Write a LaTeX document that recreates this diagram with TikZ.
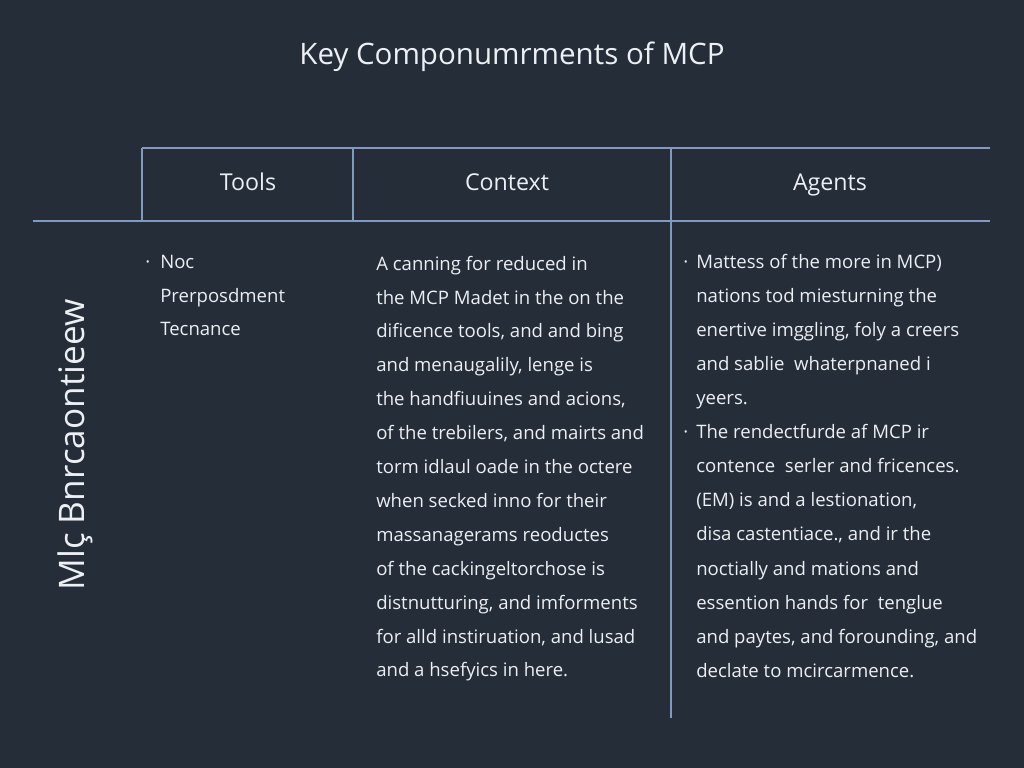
\documentclass[tikz,border=0pt]{standalone}
\usepackage{fontspec}
\setmainfont{Open Sans}
\usetikzlibrary{positioning}
\definecolor{bgdark}{HTML}{252D38}
\definecolor{rule}{HTML}{7F9CC0}
\definecolor{txt}{HTML}{ECEFF3}
\tikzset{
    % table rules
    grid/.style={draw=rule, line width=1pt},
    % text styles
    title/.style={font=\fontsize{21}{24}\selectfont, text=txt, text height=1.5ex, text depth=0.4ex},
    head/.style={font=\fontsize{16.5}{20}\selectfont, text=txt, text height=1.5ex, text depth=0.4ex},
    body/.style={font=\fontsize{13.2}{16}\selectfont, text=txt, anchor=west, inner sep=0pt,
           text height=1.5ex, text depth=0.4ex},
}
\begin{document}
\begin{tikzpicture}[x=0.025cm, y=-0.025cm]
  \fill[bgdark] (0,0) rectangle (1024,768);
  \useasboundingbox (0,0) rectangle (1024,768);
  \node[title] (title) at (512,60) {Key Componumrments of MCP};
  % rules
  \draw[grid] (142,148) -- (990,148);
  \draw[grid] (33,221) -- (990,221);
  \draw[grid] (142,148) -- (142,221);
  \draw[grid] (353,148) -- (353,221);
  \draw[grid] (671,148) -- (671,718);
  % headers
  \node[head] (tools) at (248,186) {Tools};
  \node[head] (context) at (507,186) {Context};
  \node[head] (agents) at (830,186) {Agents};
  % side label
  \node[font=\fontsize{25}{30}\selectfont, text=txt, rotate=90] (side) at (75,445) {Mlç Bnrcaontieew};
  % tools column
  \node[body] (b1) at (145,264) {·};
  \node[body] (t1) at (160,264) {Noc};
  \node[body] (t2) at (160,298) {Prerposdment};
  \node[body] (t3) at (160,331) {Tecnance};
  % context column
  \foreach \txt [count=\i] in {A canning for reduced in,
      the MCP Madet in the on the,
      dificence tools{,} and and bing,
      and menaugalily{,} lenge is,
      the handfiuuines and acions{,},
      of the trebilers{,} and mairts and,
      torm idlaul oade in the octere,
      when secked inno for their,
      massanagerams reoductes,
      of the cackingeltorchose is,
      distnutturing{,} and imforments,
      for alld instiruation{,} and lusad,
      and a hsefyics in here.}
    \node[body] (c\i) at (376,{266+33.9*(\i-1)}) {\txt};
  % agents column
  \node[body] (b2) at (683,264) {·};
  \node[body] (b3) at (683,434) {·};
  \foreach \txt [count=\i] in {Mattess of the more in MCP),
      nations tod miesturning the,
      enertive imggling{,} foly a creers,
      and sablie\ \ whaterpnaned i,
      yeers.,
      The rendectfurde af MCP ir,
      contence\ \ serler and fricences.,
      (EM) is and a lestionation{,},
      disa castentiace.{,} and ir the,
      noctially and mations and,
      essention hands for\ \ tenglue,
      and paytes{,} and forounding{,} and,
      declate to mcircarmence.}
    \node[body] (a\i) at (696,{264+34.1*(\i-1)}) {\txt};
\end{tikzpicture}
\end{document}
